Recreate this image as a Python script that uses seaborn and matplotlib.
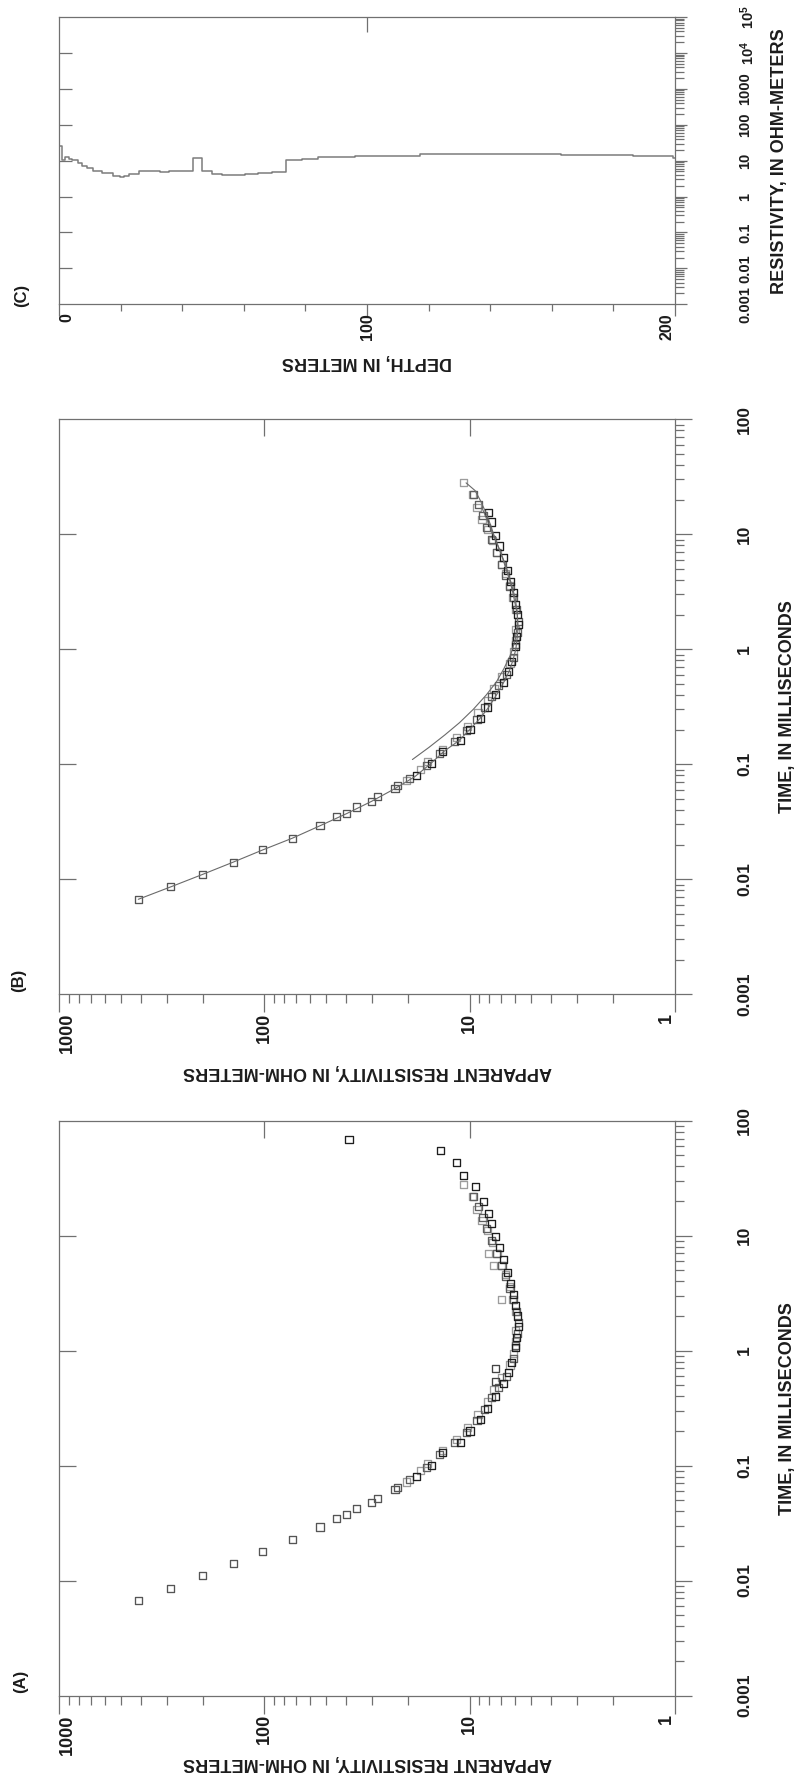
import numpy as np
import pandas as pd
import seaborn as sns
import matplotlib.pyplot as plt
from matplotlib.ticker import LogLocator, NullFormatter, MultipleLocator

sns.set_theme(style="white")
plt.rcParams['font.family'] = ['Liberation Sans', 'DejaVu Sans']
plt.rcParams['font.weight'] = 'bold'
plt.rcParams['mathtext.fontset'] = 'custom'
plt.rcParams['mathtext.rm'] = 'Liberation Sans:bold'
plt.rcParams['mathtext.it'] = 'Liberation Sans:bold'
plt.rcParams['mathtext.bf'] = 'Liberation Sans:bold'

FAMILY = ['Liberation Sans', 'DejaVu Sans']
GREY = '#707070'
INK = '#1c1c1c'

# ---- data: transient soundings (time in ms, apparent resistivity in ohm-m)
early_t = [0.00673, 0.0086, 0.0110, 0.0141, 0.0180, 0.0228, 0.0292, 0.0349,
           0.0373, 0.0425, 0.0477, 0.0521, 0.0615, 0.0650]
early_rho = [412, 286, 201, 142, 102, 73, 53.6, 44.4, 39.7, 35.4, 30.0, 28.0,
             23.1, 22.5]

black_t = [0.080, 0.101, 0.129, 0.160, 0.200, 0.251, 0.315, 0.401, 0.519,
           0.646, 0.787, 1.06, 1.29, 1.63, 2.00, 2.47, 3.10, 3.86, 4.81, 6.23,
           7.91, 9.75, 12.8, 15.6, 20.0, 26.9, 33.4, 43.0, 55.1, 69.0]
black_rho = [18.2, 15.3, 13.5, 11.1, 9.95, 8.89, 8.19, 7.51, 6.84, 6.47, 6.22,
             6.00, 5.89, 5.78, 5.83, 6.00, 6.11, 6.30, 6.55, 6.80, 7.16, 7.50,
             7.80, 8.10, 8.57, 9.40, 10.7, 11.6, 13.9, 38.7]

dark_t = [0.075, 0.097, 0.125, 0.158, 0.195, 0.245, 0.31, 0.39, 0.48, 0.60,
          0.85, 1.1, 1.4, 1.75, 2.2, 2.8, 3.5, 4.4, 5.5, 7.0, 9.0, 11.5, 14.5,
          18.0, 22.0]
dark_rho = [19.6, 16.2, 14.0, 11.8, 10.4, 9.2, 8.5, 7.8, 7.2, 6.6, 6.1, 5.95,
            5.85, 5.8, 5.9, 6.1, 6.35, 6.65, 6.95, 7.4, 7.85, 8.3, 8.6, 9.0, 9.6]

light_t = [0.072, 0.09, 0.105, 0.135, 0.17, 0.215, 0.28, 0.36, 0.46, 0.58,
           0.75, 0.95, 1.2, 1.5, 2.2, 2.8, 3.6, 4.6, 5.5, 7.0, 8.8, 11.0, 13.5,
           17.0, 22.0, 28.0]
light_rho = [20.2, 17.4, 16.0, 13.6, 11.6, 10.2, 9.1, 8.2, 7.6, 7.0, 6.35, 6.1,
             6.0, 5.95, 5.95, 6.15, 6.4, 6.7, 7.0, 7.35, 7.75, 8.2, 8.7, 9.2,
             9.7, 10.7]

# stray readings seen only in (A)
outlier_t = [0.54, 0.70]
outlier_rho = [7.45, 7.5]
light_out_t = [2.8, 5.5, 7.0]
light_out_rho = [7.0, 7.65, 8.1]

# model responses shown in (B)
fit1_t = [0.0067, 0.0086, 0.011, 0.0141, 0.018, 0.0228, 0.0292, 0.0373, 0.0477,
          0.0615, 0.078, 0.10, 0.13, 0.16, 0.20, 0.25, 0.32, 0.40, 0.52, 0.65,
          0.80, 1.0, 1.3, 1.6, 2.0, 2.5, 3.1, 3.9, 4.8, 6.2, 7.9, 9.8, 12.8,
          16.0, 20.0, 24.0, 28.0]
fit1_rho = [412, 286, 201, 142, 102, 73, 53.6, 39.7, 30.0, 23.1, 18.5, 15.6,
            13.3, 11.3, 10.0, 8.9, 8.0, 7.4, 6.8, 6.4, 6.15, 5.95, 5.85, 5.8,
            5.85, 6.0, 6.15, 6.35, 6.6, 6.9, 7.25, 7.6, 8.0, 8.4, 8.9, 9.4, 10.4]
fit2_t = [0.11, 0.14, 0.18, 0.23, 0.3, 0.4, 0.52, 0.68, 0.9, 1.2, 1.6, 2.1,
          2.8, 3.7, 4.9, 6.5, 8.5, 11.0, 14.0, 17.0]
fit2_rho = [19.0, 15.8, 13.2, 11.2, 9.6, 8.3, 7.4, 6.8, 6.3, 6.0, 5.85, 5.85,
            6.0, 6.25, 6.55, 6.95, 7.4, 7.85, 8.3, 8.7]

# layered model in (C)
layer_top = [0, 0.97, 2.0, 3.0, 4.1, 6.0, 7.5, 9.0, 11.1, 13.9, 17.6, 19.8,
             21.1, 22.5, 25.8, 32.8, 35.5, 43.6, 46.3, 49.6, 52.8, 60.4, 64.7,
             69.1, 73.7, 78.8, 84.2, 96.1, 110.7, 117.2, 163.2, 186.5, 199.4]
layer_rho = [25.7, 10.5, 12.4, 10.9, 10.5, 8.5, 7.3, 6.1, 5.0, 4.5, 3.8, 3.4,
             3.8, 4.35, 5.2, 4.85, 5.3, 11.7, 5.0, 4.3, 3.9, 4.2, 4.5, 4.75,
             10.5, 11.2, 12.4, 13.5, 13.8, 15.1, 14.4, 13.5, 11.7]
max_depth = 200

rho_ticks = [1000, 100, 10, 1]
rho_labels = ['1000', '100', '10', '1']
time_ticks = [0.001, 0.01, 0.1, 1, 10, 100]
time_labels = ['0.001', '0.01', '0.1', '1', '10', '100']
depth_ticks = [0, 100, 200]
depth_labels = ['0', '100', '200']
res_ticks = [1e-3, 1e-2, 1e-1, 1, 10, 100, 1000, 1e4, 1e5]
res_labels = ['0.001', '0.01', '0.1', '1', '10', '100', '1000',
              r'$10^{4}$', r'$10^{5}$']

W, H = 797, 1779


def box(x0, y0, x1, y1):
    return [x0 / W, 1 - y1 / H, (x1 - x0) / W, (y1 - y0) / H]


def inner_ticks(ax, side, ticks, length):
    if side in ('left', 'right'):
        sec = ax.secondary_yaxis(side)
    else:
        sec = ax.secondary_xaxis(side)
    sec.set_ticks(ticks)
    sec.tick_params(which='minor', length=0)
    sec.tick_params(which='major', direction='in', length=length, width=0.9,
                    color=GREY, **{side: True, 'label' + side: False})
    for sp in sec.spines.values():
        sp.set_visible(False)


def style_labels(labels, size):
    for lab in labels:
        lab.set_fontfamily(FAMILY)
        lab.set_fontweight('bold')
        lab.set_fontsize(size)
        lab.set_color(INK)


def sounding_axes(ax):
    ax.set_xscale('log')
    ax.set_yscale('log')
    ax.set_xlim(1000, 1)
    ax.set_ylim(0.001, 100)
    for sp in ax.spines.values():
        sp.set_color(GREY)
        sp.set_linewidth(0.9)
    ax.set_xticks(rho_ticks, rho_labels)
    ax.set_yticks(time_ticks, time_labels)
    for axis in (ax.xaxis, ax.yaxis):
        axis.set_minor_locator(LogLocator(base=10, subs=np.arange(2, 10), numticks=30))
        axis.set_minor_formatter(NullFormatter())
    ax.tick_params(axis='x', which='both', bottom=True, top=False,
                   direction='out', color=GREY, width=0.9, labelsize=13,
                   labelcolor=INK)
    ax.tick_params(axis='x', which='major', length=13, pad=0.5, labelrotation=90)
    ax.tick_params(axis='x', which='minor', length=6.5)
    ax.tick_params(axis='y', which='both', left=False, right=True,
                   labelleft=False, labelright=True, direction='out',
                   color=GREY, width=0.9, labelsize=12.5, labelcolor=INK)
    ax.tick_params(axis='y', which='major', length=12.5, pad=32.5, labelrotation=90)
    ax.tick_params(axis='y', which='minor', length=6.5)
    inner_ticks(ax, 'left', [0.01, 0.1, 1, 10], 12.2)
    inner_ticks(ax, 'top', [100, 10], 12)


def finish_sounding_labels(ax):
    style_labels(ax.get_xticklabels(), 13)
    style_labels(ax.get_yticklabels(), 12.5)
    for lab in ax.get_yticklabels():
        lab.set_va('center')
    for lab in ax.get_xticklabels():
        if lab.get_text() == '1000':
            lab.set_ha('left')
        elif lab.get_text() == '1':
            lab.set_ha('right')
    ax.set_xlabel('')
    ax.set_ylabel('')


def squares(ax, t, rho, color):
    sns.scatterplot(x=rho, y=t, ax=ax, marker='s', s=26, facecolor='none',
                    edgecolor=color, linewidth=0.95, legend=False, zorder=3)


fig = plt.figure(figsize=(W / 100, H / 100), dpi=100)

# ---------------- (A) observed soundings
axA = fig.add_axes(box(59.3, 1120.7, 674.7, 1695.5))
sounding_axes(axA)
squares(axA, early_t, early_rho, '#555555')
squares(axA, light_t, light_rho, '#9c9c9c')
squares(axA, light_out_t, light_out_rho, '#9c9c9c')
squares(axA, dark_t, dark_rho, '#5e5e5e')
squares(axA, outlier_t, outlier_rho, '#444444')
squares(axA, black_t, black_rho, '#1e1e1e')

# ---------------- (B) soundings with model fits
axB = fig.add_axes(box(59.3, 419.3, 674.7, 994.3))
sounding_axes(axB)
dfB = pd.DataFrame({'t': black_t, 'rho': black_rho})
dfB = dfB[dfB.t <= 17]
squares(axB, early_t, early_rho, '#555555')
squares(axB, light_t, light_rho, '#9c9c9c')
squares(axB, dark_t, dark_rho, '#5e5e5e')
squares(axB, dfB.t.tolist(), dfB.rho.tolist(), '#1e1e1e')
sns.lineplot(x=fit1_rho, y=fit1_t, ax=axB, sort=False, estimator=None,
             color='#6a6a6a', linewidth=0.8, zorder=4)
sns.lineplot(x=fit2_rho, y=fit2_t, ax=axB, sort=False, estimator=None,
             color='#6a6a6a', linewidth=0.8, zorder=4)

for ax, ylab in ((axA, -0.1174), (axB, -0.135)):
    finish_sounding_labels(ax)
    ax.text(0.5, ylab, 'APPARENT RESISTIVITY, IN OHM-METERS', rotation=180,
            transform=ax.transAxes, ha='center', va='center', fontsize=13,
            fontweight='bold', color=INK)
    ax.text(1.1825, 0.5, 'TIME, IN MILLISECONDS', rotation=90,
            transform=ax.transAxes, ha='center', va='center', fontsize=13,
            fontweight='bold', color=INK)

# ---------------- (C) layered resistivity model
axC = fig.add_axes(box(59.3, 17, 674.7, 304.3))
steps = pd.DataFrame({'depth': layer_top + [max_depth],
                      'rho': layer_rho + [layer_rho[-1]]})
sns.lineplot(data=steps, x='depth', y='rho', ax=axC, sort=False,
             estimator=None, drawstyle='steps-post', color='#7c7c7c',
             linewidth=1.1)
axC.set_yscale('log')
axC.set_xlim(0, 200)
axC.set_ylim(1e-3, 1e5)
for sp in axC.spines.values():
    sp.set_color(GREY)
    sp.set_linewidth(0.9)
axC.set_xticks(depth_ticks, depth_labels)
axC.xaxis.set_minor_locator(MultipleLocator(20))
axC.set_yticks(res_ticks, res_labels)
axC.yaxis.set_minor_locator(LogLocator(base=10, subs=np.arange(2, 10), numticks=40))
axC.yaxis.set_minor_formatter(NullFormatter())
axC.tick_params(axis='x', which='both', bottom=True, top=False,
                direction='out', color=GREY, width=0.9, labelsize=11.5,
                labelcolor=INK)
axC.tick_params(axis='x', which='major', length=8.6, pad=-2, labelrotation=90)
axC.tick_params(axis='x', which='minor', length=5)
axC.tick_params(axis='y', which='both', left=False, right=True,
                labelleft=False, labelright=True, direction='out',
                color=GREY, width=0.9, labelsize=10.5, labelcolor=INK)
axC.tick_params(axis='y', which='major', length=8.6, pad=37, labelrotation=90)
axC.tick_params(axis='y', which='minor', length=6.5)
inner_ticks(axC, 'left', [0.01, 0.1, 1, 10, 100, 1000, 1e4], 9.4)
inner_ticks(axC, 'top', [100], 10.8)
style_labels(axC.get_xticklabels(), 11.5)
style_labels(axC.get_yticklabels(), 10.5)
for lab in axC.get_yticklabels():
    lab.set_va('center')
for lab in axC.get_xticklabels():
    if lab.get_text() == '0':
        lab.set_ha('left')
    elif lab.get_text() == '200':
        lab.set_ha('right')
axC.set_xlabel('')
axC.set_ylabel('')
axC.text(0.5, -0.2008, 'DEPTH, IN METERS', rotation=180, transform=axC.transAxes,
         ha='center', va='center', fontsize=13, fontweight='bold', color=INK)
axC.text(1.171, 0.5, 'RESISTIVITY, IN OHM-METERS', rotation=90,
         transform=axC.transAxes, ha='center', va='center', fontsize=13,
         fontweight='bold', color=INK)

# panel letters
for letter, (px, py) in {'(C)': (22, 295), '(B)': (19, 980), '(A)': (21, 1681)}.items():
    fig.text(px / W, 1 - py / H, letter, rotation=90, ha='center', va='center',
             fontsize=12, fontweight='bold', color=INK)

fig.savefig('out.png', dpi=100)
